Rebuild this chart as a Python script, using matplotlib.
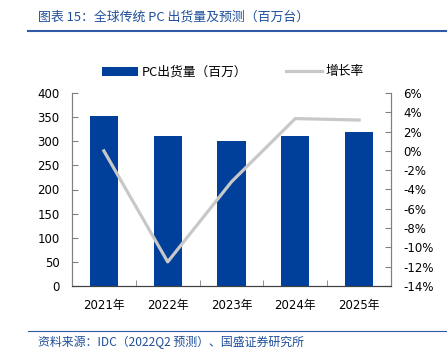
import numpy as np
import matplotlib
matplotlib.use('Agg')
import matplotlib.pyplot as plt
from matplotlib.patches import Patch
from matplotlib.lines import Line2D
from matplotlib.ticker import FuncFormatter

# data
years = ['2021年', '2022年', '2023年', '2024年', '2025年']
shipments = [352, 311, 300, 311, 320]      # 百万台
growth = [0.0, -11.5, -3.2, 3.35, 3.2]      # %

bar_color = '#00409A'
line_color = '#C8C8C8'
title_color = '#1F4E9A'

plt.rcParams['font.family'] = ['DejaVu Sans', 'Noto Sans CJK SC']
plt.rcParams['font.size'] = 8.5

fig = plt.figure(figsize=(4.48, 3.6), dpi=100)
ax = fig.add_axes([72/448, 1-286/360, (391-72)/448, (286-93)/360])
ax2 = ax.twinx()

x = np.arange(len(years))
ax.bar(x, shipments, width=0.44, color=bar_color, zorder=2)
ax2.plot(x, growth, color=line_color, lw=2.3, zorder=3)

ax.set_xlim(-0.5, len(years) - 0.5)
ax.set_ylim(0, 400)
ax.set_yticks(np.arange(0, 401, 50))
ax2.set_ylim(-14, 6)
ax2.set_yticks(np.arange(-14, 7, 2))
ax2.yaxis.set_major_formatter(FuncFormatter(lambda v, p: '%d%%' % v))

ax.set_xticks(x)
ax.set_xticklabels(years)
ax.set_xticks(np.arange(0.5, len(years) - 1, 1), minor=True)
ax.tick_params(axis='x', which='major', length=0, pad=9)
ax.tick_params(axis='x', which='minor', direction='in', length=4, color='#808080')
ax.tick_params(axis='y', direction='in', length=4, color='#808080', pad=9)
ax2.tick_params(axis='y', direction='in', length=4, color='#808080', pad=9)

for a in (ax, ax2):
    a.spines['top'].set_visible(False)
    a.spines['left'].set_color('#808080')
    a.spines['right'].set_color('#808080')
    a.spines['bottom'].set_color('#404040')
    a.spines['left'].set_linewidth(0.8)
    a.spines['right'].set_linewidth(0.8)

handles = [Patch(facecolor=bar_color, edgecolor='none'),
           Line2D([], [], color=line_color, lw=2.3)]
fig.legend(handles, ['PC出货量（百万）', '增长率'], loc='center',
           bbox_to_anchor=(0.52, 0.8), ncol=2, frameon=False,
           handlelength=2.8, handleheight=0.7, handletextpad=0.3,
           columnspacing=3.0, prop={'family': ['Noto Sans CJK SC'], 'size': 9.2})

# header and footer
fig.text(38/448, 1-17/360, '图表 15：全球传统 PC 出货量及预测（百万台）',
         color=title_color, fontsize=9.3, family=['Noto Sans CJK SC'],
         va='center', ha='left', style='italic')
fig.add_artist(Line2D([28/448, 446/448], [1-31/360, 1-31/360],
                      color='#2E5AA6', lw=1.5))
fig.add_artist(Line2D([28/448, 446/448], [1-331/360, 1-331/360],
                      color='#2E5AA6', lw=0.8))
fig.text(38/448, 1-342/360, '资料来源：IDC（2022Q2 预测）、国盛证券研究所',
         color=title_color, fontsize=8.6, family=['Noto Sans CJK SC'],
         va='center', ha='left', style='italic')

fig.savefig('out.png', dpi=100)
